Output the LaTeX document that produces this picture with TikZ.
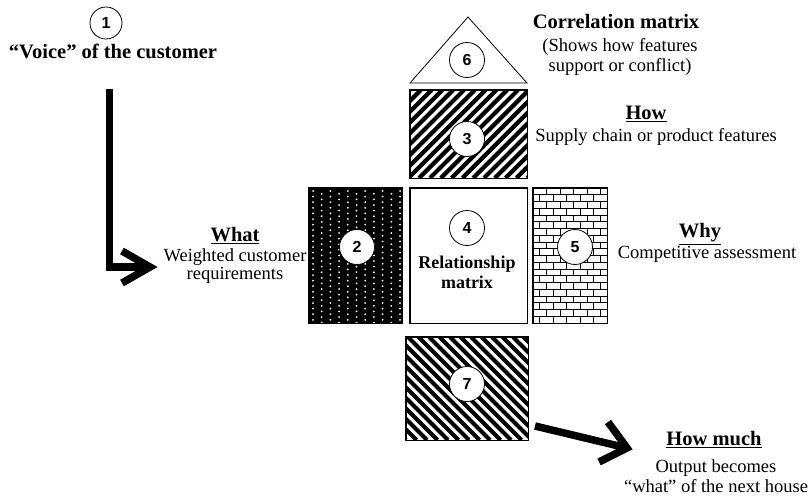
\documentclass[tikz,border=0pt]{standalone}
\usepackage{fontspec}
\setmainfont{Liberation Serif}
\newfontfamily\numfont{Liberation Sans}
\begin{document}
\begin{tikzpicture}[x=1pt,y=-1pt,
  num/.style={circle,draw,line width=0.8pt,fill=white,minimum size=35pt,inner sep=0pt,font=\numfont\bfseries\fontsize{16}{16}\selectfont},
  ttl/.style={font=\bfseries\fontsize{20.5}{22}\selectfont,inner sep=0pt},
  body/.style={font=\fontsize{18.5}{20.5}\selectfont,align=center,inner sep=0pt},
  box/.style={draw,line width=1pt,inner sep=0pt},
  fat/.style={line width=7.5pt,line cap=butt,line join=miter},
  stripe/.style={line width=4.2pt},
  brick/.style={line width=0.8pt}
]
\useasboundingbox (0,0) rectangle (809,498);

% ---- boxes ----
\node[box,minimum width=117pt,minimum height=88pt] (b3) at (468.5,134) {};
\node[box,fill=black,minimum width=93pt,minimum height=135pt] (b2) at (355.5,255.5) {};
\node[box,minimum width=117pt,minimum height=135pt] (b4) at (468.5,255.5) {};
\node[box,minimum width=74pt,minimum height=135pt] (b5) at (570,255.5) {};
\node[box,minimum width=122pt,minimum height=103pt] (b7) at (467,388.5) {};

% stripes in box 3
\begin{scope}
  \clip (b3.south west) rectangle (b3.north east);
  \foreach \i in {0,...,20} \draw[stripe] (322+\i*10.8,178) -- ++(88,-88);
\end{scope}
% stripes in box 7
\begin{scope}
  \clip (b7.south west) rectangle (b7.north east);
  \foreach \i in {0,...,22} \draw[stripe] (303+\i*10.5,337) -- ++(103,103);
\end{scope}
% dots in box 2
\begin{scope}
  \clip (b2.south west) rectangle (b2.north east);
  \foreach \c in {0,...,10} {
    \foreach \r in {0,...,24} {
      \pgfmathsetmacro\yy{191+\r*5.6+mod(\c,2)*2.8}
      \fill[white] (313+\c*8.7,\yy) circle (1.0);
    }
  }
\end{scope}
% bricks in box 5
\begin{scope}
  \clip (b5.south west) rectangle (b5.north east);
  \foreach \r in {0,...,20} {
    \pgfmathsetmacro\ya{188+\r*6.75}
    \pgfmathsetmacro\off{mod(\r,2)*6.75}
    \draw[brick] (533,\ya) -- (607,\ya);
    \foreach \k in {0,...,6} {
      \draw[brick] (533+\off+\k*13.5,\ya) -- ++(0,6.75);
    }
  }
\end{scope}
% redraw borders
\foreach \b in {b2,b3,b4,b5,b7} \draw[line width=1pt] (\b.south west) rectangle (\b.north east);

% triangle
\draw[line width=0.8pt,line join=miter] (410,83) -- (468,17) -- (527,83) -- cycle;

% ---- numbered circles ----
\node[num,minimum size=32pt] (n1) at (106,23) {1};
\node[num] (n2) at (357,247) {2};
\node[num] (n3) at (467,139) {3};
\node[num] (n4) at (467,228) {4};
\node[num] (n5) at (575,247) {5};
\node[num] (n6) at (467,60) {6};
\node[num] (n7) at (467,384) {7};

% ---- texts ----
\node[ttl] (voice) at (113,51) {``Voice'' of the customer};
\node[ttl] (whatT) at (235,236) {\underline{What}};
\node[body,font=\fontsize{18.5}{17.5}\selectfont] (whatB) at (235,266) {Weighted customer\\requirements};
\node[ttl,align=center,font=\bfseries\fontsize{18}{20}\selectfont] (rel) at (467,272) {Relationship\\matrix};
\node[ttl] (corrT) at (616,21) {Correlation matrix};
\node[body] (corrB) at (620,57) {(Shows how features\\support or conflict)};
\node[ttl] (howT) at (646,114) {\underline{How}};
\node[body] (howB) at (656,137) {Supply chain or product features};
\node[ttl] (whyT) at (700,234) {\underline{Why}};
\node[body] (whyB) at (707,254) {Competitive assessment};
\node[ttl] (hmT) at (714,440) {\underline{How much}};
\node[body] (hmB) at (716,476) {Output becomes\\``what'' of the next house};

% ---- arrows ----
\coordinate (a1s) at (109.5,89);
\coordinate (a1c) at (109.5,267);
\coordinate (a1t) at (150,267);
\coordinate (a1u) at (122,251);
\coordinate (a1l) at (122,283);
\draw[fat] (a1s) -- (a1c) -- (a1t);
\draw[fat] (a1u) -- (a1t) -- (a1l);

\coordinate (a2s) at (535,426);
\coordinate (a2t) at (627,448);
\coordinate (a2u) at (608,422);
\coordinate (a2l) at (599,462);
\draw[fat] (a2s) -- (a2t);
\draw[fat] (a2u) -- (a2t) -- (a2l);
\end{tikzpicture}
\end{document}
